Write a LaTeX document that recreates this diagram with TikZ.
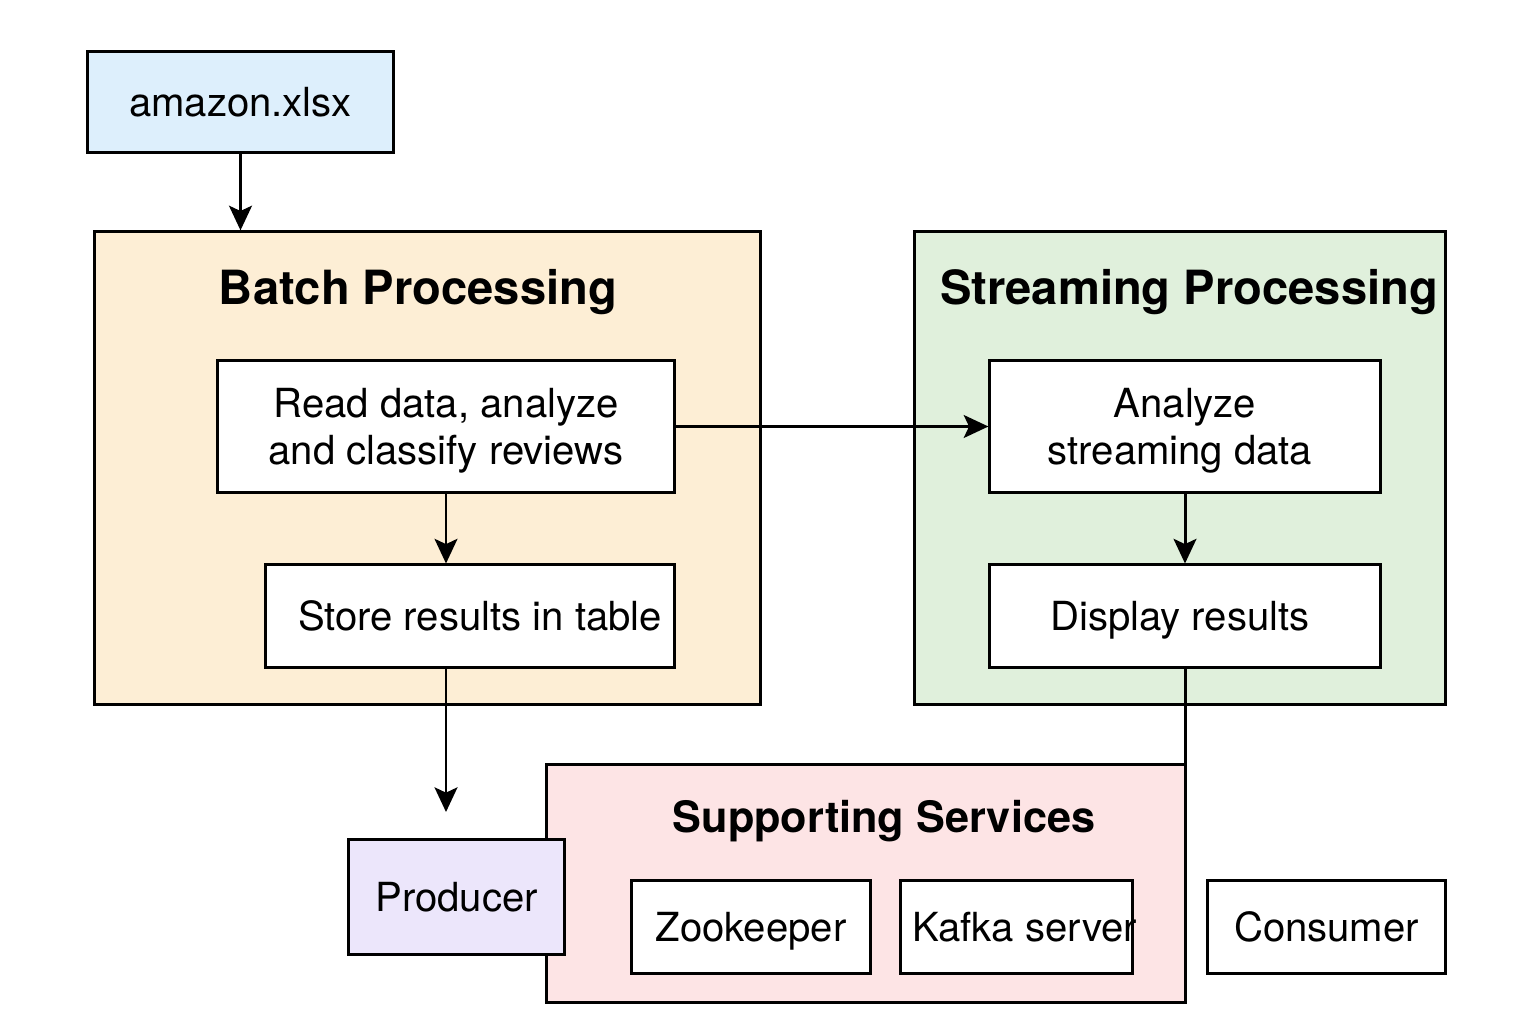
\documentclass[tikz,border=0pt]{standalone}
\usepackage{fontspec}
\setmainfont{TeX Gyre Heros}
\usetikzlibrary{arrows.meta}
\definecolor{srcblue}{HTML}{DDEFFC}
\definecolor{batchorange}{HTML}{FDEED5}
\definecolor{streamgreen}{HTML}{E0F0DC}
\definecolor{supportpink}{HTML}{FDE4E5}
\definecolor{prodlilac}{HTML}{ECE6FB}
\begin{document}
\begin{tikzpicture}[x=0.01cm,y=-0.01cm,
    box/.style={draw,line width=0.85pt,fill=white,inner sep=0pt,align=center,
      font=\fontsize{11.4}{13.4}\selectfont,text height=8.2pt,text depth=0pt},
    twoline/.style={text height=,text depth=0pt},
    grp/.style={draw,line width=0.85pt,inner sep=0pt},
    ttl/.style={font=\fontsize{13.4}{16}\selectfont\bfseries},
    arr/.style={line width=0.85pt,-{Stealth[length=7pt,width=6.5pt,inset=1.5pt]}}]
    \useasboundingbox (0,0) rectangle (1536,1024);
    % groups
    \node[grp,fill=batchorange,minimum width=6.65cm,minimum height=4.72cm] (batch) at (427.5,468) {};
    \node[grp,fill=streamgreen,minimum width=5.30cm,minimum height=4.72cm] (stream) at (1180,468) {};
    \node[grp,fill=supportpink,minimum width=6.38cm,minimum height=2.37cm] (support) at (866,883.5) {};
    \node[ttl] (batchttl) at (418,292) {Batch Processing};
    \node[ttl] (streamttl) at (1189,292) {Streaming Processing};
    \node[ttl,font=\fontsize{12.3}{15}\selectfont\bfseries] (supportttl) at (884,821) {Supporting Services};
    % boxes
    \node[box,fill=srcblue,minimum width=3.05cm,minimum height=1.00cm] (src) at (240.5,102) {amazon.xlsx};
    \node[box,twoline,minimum width=4.56cm,minimum height=1.31cm] (read) at (446,426.5) {Read data, analyze\\and classify reviews};
    \node[box,minimum width=4.08cm,minimum height=1.02cm] (store) at (470,616) {\hspace*{0.2cm}Store results in table};
    \node[box,twoline,minimum width=3.90cm,minimum height=1.31cm] (analyze) at (1185,426.5) {Analyze\\streaming data\hspace*{0.1cm}};
    \node[box,minimum width=3.90cm,minimum height=1.02cm] (display) at (1185,616) {Display results\hspace*{0.1cm}};
    \node[box,fill=prodlilac,minimum width=2.15cm,minimum height=1.14cm] (producer) at (456.5,897) {Producer};
    \node[box,minimum width=2.38cm,minimum height=0.92cm] (zoo) at (751,927) {Zookeeper};
    \node[box,minimum width=2.31cm,minimum height=0.92cm,
      label={[font=\fontsize{11.4}{13.4}\selectfont,text height=8.2pt,text depth=0pt,xshift=0.08cm]center:Kafka server}] (kafka) at (1016.5,927) {};
    \node[box,minimum width=2.37cm,minimum height=0.92cm] (consumer) at (1326.5,927) {Consumer};
    \coordinate (prodtip) at (446,812);
    % connectors
    \draw[arr] (src.south) -- (src.south |- batch.north);
    \draw[arr] (read.south) -- (read.south |- store.north);
    \draw[arr] (read.south |- store.south) -- (prodtip);
    \draw[arr] (read.east) -- (analyze.west);
    \draw[arr] (analyze.south) -- (display.north);
    \draw[line width=0.85pt] (display.south) -- (display.south |- support.north);
\end{tikzpicture}
\end{document}
